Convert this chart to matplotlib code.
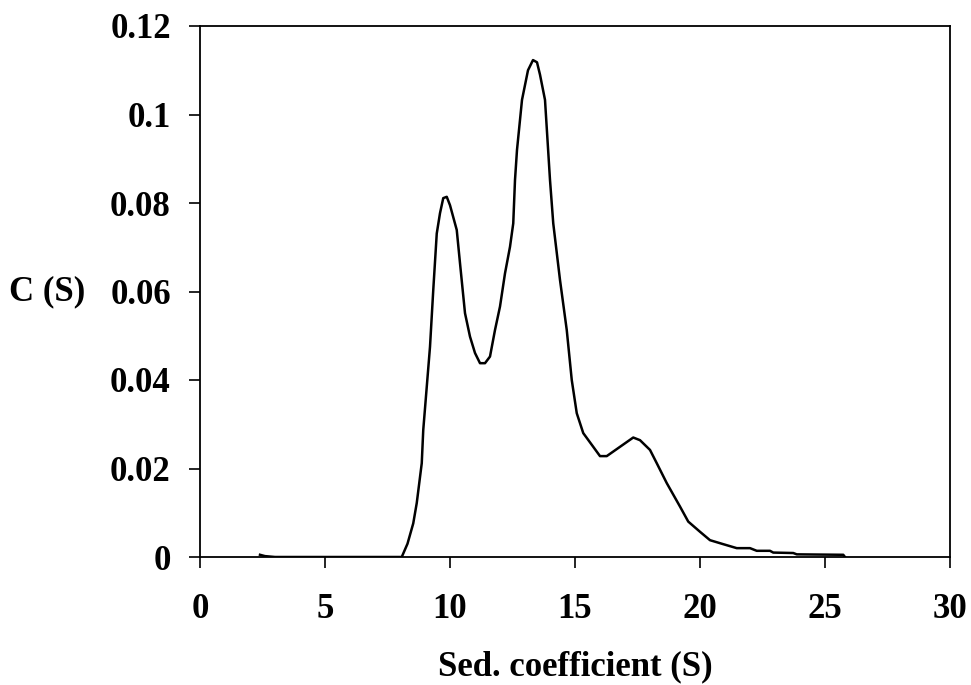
import matplotlib
matplotlib.use("Agg")
import matplotlib.pyplot as plt

# sedimentation coefficient distribution
sed = [2.4, 2.6, 3.0, 4.0, 6.0, 8.0, 8.07, 8.3, 8.53, 8.67, 8.87, 8.93, 9.2, 9.33, 9.47,
       9.6, 9.73, 9.87, 10.0, 10.27, 10.4, 10.6, 10.8, 11.0, 11.2, 11.4, 11.6, 11.8,
       12.0, 12.2, 12.4, 12.53, 12.6, 12.68, 12.88, 13.12, 13.32, 13.48, 13.6, 13.8,
       14.0, 14.13, 14.4, 14.67, 14.87, 15.07, 15.33, 15.73, 16.0, 16.27, 16.8, 17.33,
       17.6, 18.0, 18.27, 18.67, 19.2, 19.53, 20.0, 20.4, 20.93, 21.47, 22.0, 22.27,
       22.8, 22.93, 23.73, 23.87, 25.73, 25.8]
conc = [0.0005, 0.0002, 0.0, 0.0, 0.0, 0.0, 0.0, 0.003, 0.0076, 0.0122, 0.0212, 0.0287,
        0.0475, 0.0603, 0.0731, 0.0777, 0.0811, 0.0814, 0.0795, 0.0739, 0.0664, 0.0551,
        0.0498, 0.0461, 0.0438, 0.0438, 0.0453, 0.0513, 0.0566, 0.0641, 0.0701, 0.0754,
        0.0852, 0.092, 0.1033, 0.110, 0.1123, 0.1118, 0.109, 0.1033, 0.0852, 0.0754,
        0.0626, 0.0513, 0.040, 0.0325, 0.028, 0.0249, 0.0228, 0.0228, 0.0249, 0.027,
        0.0264, 0.0242, 0.0212, 0.0167, 0.0114, 0.008, 0.0057, 0.0038, 0.0029, 0.002,
        0.002, 0.0014, 0.0014, 0.001, 0.0009, 0.0006, 0.0005, 0.0]

x_ticks = [0, 5, 10, 15, 20, 25, 30]
y_ticks = [0, 0.02, 0.04, 0.06, 0.08, 0.1, 0.12]
y_labels = ['0', '0.02', '0.04', '0.06', '0.08', '0.1', '0.12']

plt.rcParams['font.family'] = ['Liberation Serif', 'DejaVu Serif']
plt.rcParams['font.weight'] = 'bold'

fig = plt.figure(figsize=(9.71, 6.85), dpi=100)
ax = fig.add_axes([200 / 971, 128 / 685, 750 / 971, 531 / 685])

ax.plot(sed, conc, color='black', lw=1.8)
ax.set_xlim(0, 30)
ax.set_ylim(0, 0.12)
ax.set_xticks(x_ticks)
ax.set_xticklabels([str(t) for t in x_ticks])
ax.set_yticks(y_ticks)
ax.set_yticklabels(y_labels)
ax.tick_params(axis='both', direction='out', labelsize=25, width=1.2)
ax.tick_params(axis='x', length=8, pad=18)
ax.tick_params(axis='y', length=8, pad=13)
for s in ax.spines.values():
    s.set_linewidth(1.3)

fig.text(47 / 971, 1 - 292 / 685, 'C (S)', fontsize=25, fontweight='bold',
         ha='center', va='center')
fig.text(575 / 971, 1 - 667 / 685, 'Sed. coefficient (S)', fontsize=25,
         fontweight='bold', ha='center', va='center')

fig.savefig('out.png', dpi=100)
